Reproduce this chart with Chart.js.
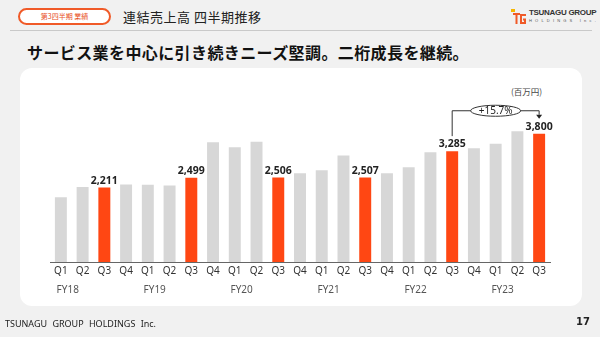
<!DOCTYPE html>
<html lang="ja">
<head>
<meta charset="utf-8">
<title>連結売上高 四半期推移</title>
<script src="https://cdn.jsdelivr.net/npm/chart.js@4"></script>
<style>
  html, body { margin: 0; padding: 0; }
  body {
    width: 600px; height: 337px; overflow: hidden; position: relative;
    background: #f1f1f1;
    font-family: "Noto Sans CJK JP", "Noto Sans", sans-serif;
  }
  .pill {
    position: absolute; left: 18px; top: 8px; width: 89px; height: 13px;
    border: 2px solid #f05a28; border-radius: 10px; background: #fff;
    color: #e8501f; font-size: 7px; line-height: 13px; text-align: center;
  }
  .title { position: absolute; left: 123px; top: 7px; font-size: 13px; color: #222; letter-spacing: 0.5px; }
  .rule { position: absolute; left: 10px; top: 30px; width: 582px; height: 1px; background: #c9c9c9; }
  .logo { position: absolute; left: 510px; top: 6px; }
  .logo .mark { position: absolute; left: 0; top: 2px; }
  .logo .name { position: absolute; left: 19px; top: 2px; font-family: "Liberation Sans", sans-serif; font-size: 8px; font-weight: bold; color: #333; letter-spacing: -0.3px; white-space: nowrap; }
  .logo .sub { position: absolute; left: 19px; top: 12px; font-family: "Liberation Sans", sans-serif; font-size: 4px; color: #555; letter-spacing: 3.2px; white-space: nowrap; }
  .headline { position: absolute; left: 27px; top: 40px; font-size: 16px; font-weight: bold; color: #111; letter-spacing: 0.4px; white-space: nowrap; }
  .panel { position: absolute; left: 20px; top: 68px; width: 562px; height: 238px; background: #fff; border-radius: 12px; }
  .unit { position: absolute; left: 511px; top: 85px; font-size: 8.5px; color: #444; white-space: nowrap; }
  canvas { position: absolute; left: 0; top: 0; }
  .footer { position: absolute; left: 5px; top: 317px; font-family: "Noto Sans", sans-serif; font-size: 9px; color: #222; word-spacing: 3px; white-space: nowrap; }
  .page { position: absolute; right: 10px; top: 316px; font-family: "DejaVu Sans", sans-serif; font-size: 10px; font-weight: bold; color: #222; }
</style>
</head>
<body>
<div class="pill">第3四半期 業績</div>
<div class="title">連結売上高 四半期推移</div>
<div class="rule"></div>
<div class="logo">
  <svg class="mark" width="17" height="17" viewBox="0 0 17 17">
    <rect x="1" y="1" width="4" height="3" fill="#f6b600"/>
    <path d="M3 5 H10 V7 H7.5 V16 H5.5 V7 H3 Z" fill="#f05a28"/>
    <path d="M16 6 H10 V16 H16 V10.5 H13 V12.5 H14 V14 H12 V8 H16 Z" fill="#f05a28"/>
  </svg>
  <div class="name">TSUNAGU GROUP</div>
  <div class="sub">HOLDINGS Inc.</div>
</div>
<div class="headline">サービス業を中心に引き続きニーズ堅調。二桁成長を継続。</div>
<div class="panel"></div>
<div class="unit">(百万円)</div>
<canvas id="chart" width="600" height="337"></canvas>
<div class="footer">TSUNAGU GROUP HOLDINGS Inc.</div>
<div class="page">17</div>

<script>
// Quarterly consolidated sales (million yen), FY18 Q1 .. FY23 Q3
const quarters = ['Q1','Q2','Q3','Q4','Q1','Q2','Q3','Q4','Q1','Q2','Q3','Q4',
                  'Q1','Q2','Q3','Q4','Q1','Q2','Q3','Q4','Q1','Q2','Q3'];
const fiscalYears = ['FY18','FY19','FY20','FY21','FY22','FY23'];
const sales = [1920, 2220, 2211, 2296, 2290, 2266, 2499, 3546, 3398, 3566, 2506, 2630,
               2719, 3152, 2507, 2630, 2807, 3250, 3285, 3369, 3507, 3871, 3800];

const GRAY = '#d7d7d7';
const ORANGE = '#ff4713';
const isQ3 = i => quarters[i] === 'Q3';
const barColors = sales.map((v, i) => isQ3(i) ? ORANGE : GRAY);

// index of the last Q3 and the Q3 one year earlier, for the growth bracket
const lastQ3 = quarters.lastIndexOf('Q3');
const prevQ3 = lastQ3 - 4;

const NUM_FONT = '"Noto Sans", sans-serif';

// value labels above the Q3 bars
const valueLabels = {
  id: 'valueLabels',
  afterDatasetsDraw(chart) {
    const ctx = chart.ctx;
    const meta = chart.getDatasetMeta(0);
    ctx.save();
    ctx.font = 'bold 10.5px ' + NUM_FONT;
    ctx.fillStyle = '#222';
    ctx.textAlign = 'center';
    ctx.textBaseline = 'bottom';
    meta.data.forEach((bar, i) => {
      if (!isQ3(i)) return;
      ctx.fillText(sales[i].toLocaleString('en-US'), bar.x, bar.y - 1.5);
    });
    ctx.restore();
  }
};

// fiscal year captions under the quarter ticks
const yearLabels = {
  id: 'yearLabels',
  afterDraw(chart) {
    const ctx = chart.ctx;
    const x = chart.scales.x;
    ctx.save();
    ctx.font = '10px ' + NUM_FONT;
    ctx.fillStyle = '#555';
    ctx.textAlign = 'center';
    ctx.textBaseline = 'middle';
    fiscalYears.forEach((fy, k) => {
      const q1 = k * 4;
      const mid = (x.getPixelForValue(q1) + x.getPixelForValue(q1 + 1)) / 2 - 4;
      ctx.fillText(fy, mid, chart.chartArea.bottom + 28.5);
    });
    ctx.restore();
  }
};

// year-on-year growth bracket between the last two Q3 bars
const growthBracket = {
  id: 'growthBracket',
  afterDatasetsDraw(chart) {
    const ctx = chart.ctx;
    const meta = chart.getDatasetMeta(0);
    const a = meta.data[prevQ3];
    const b = meta.data[lastQ3];
    const topY = Math.min(a.y, b.y) - 23;
    const startY = a.y - 15;
    const tipY = b.y - 15;
    const growth = ((sales[lastQ3] / sales[prevQ3] - 1) * 100).toFixed(1);
    const midX = (a.x + b.x) / 2;

    ctx.save();
    ctx.strokeStyle = '#333';
    ctx.lineWidth = 1;
    ctx.beginPath();
    ctx.moveTo(a.x, startY);
    ctx.lineTo(a.x, topY);
    ctx.lineTo(b.x, topY);
    ctx.lineTo(b.x, tipY - 4);
    ctx.stroke();
    ctx.fillStyle = '#222';
    ctx.beginPath();
    ctx.moveTo(b.x - 3, tipY - 4);
    ctx.lineTo(b.x + 3, tipY - 4);
    ctx.lineTo(b.x, tipY);
    ctx.closePath();
    ctx.fill();

    ctx.beginPath();
    ctx.ellipse(midX, topY, 25, 5.5, 0, 0, Math.PI * 2);
    ctx.fillStyle = '#fff';
    ctx.fill();
    ctx.stroke();

    ctx.font = '10px ' + NUM_FONT;
    ctx.fillStyle = '#222';
    ctx.textAlign = 'center';
    ctx.textBaseline = 'middle';
    ctx.fillText('+' + growth + '%', midX, topY + 0.5);
    ctx.restore();
  }
};

new Chart(document.getElementById('chart'), {
  type: 'bar',
  data: {
    labels: quarters,
    datasets: [{
      data: sales,
      backgroundColor: barColors,
      borderWidth: 0,
      categoryPercentage: 1.0,
      barPercentage: 0.55
    }]
  },
  options: {
    responsive: false,
    animation: false,
    events: [],
    layout: { padding: { left: 50, right: 50, top: 100, bottom: 35 } },
    plugins: { legend: { display: false }, tooltip: { enabled: false } },
    scales: {
      x: {
        grid: { display: false, drawTicks: false },
        border: { display: true, color: '#666', width: 1 },
        ticks: { color: '#333', font: { family: NUM_FONT, size: 10 }, padding: 3, maxRotation: 0, autoSkip: false },
        afterFit(scale) { scale.height = 40; }
      },
      y: {
        display: false,
        min: 0,
        max: 4800
      }
    }
  },
  plugins: [valueLabels, yearLabels, growthBracket]
});
</script>
</body>
</html>
